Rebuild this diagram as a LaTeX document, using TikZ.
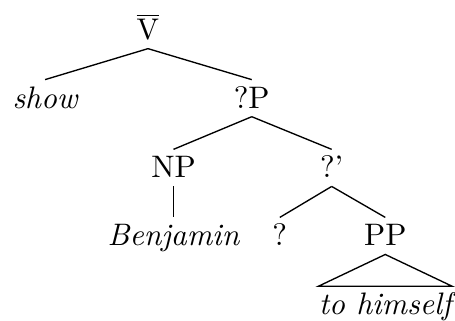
\documentclass[tikz,border=0pt]{standalone}
\usepackage{amsmath}
\usepackage{tikz}
\usetikzlibrary{positioning,calc}
\newcommand{\barV}{$\overline{\mathrm{V}}$}
\tikzset{
  cat/.style ={anchor=base, inner sep=0pt, text height=9.3pt, text depth=2.7pt,
               font=\fontsize{10.4pt}{12pt}\selectfont},
  lex/.style ={cat, font=\fontsize{10.4pt}{12pt}\selectfont\itshape},
  br/.style  ={draw, line width=0.45pt},
}
\begin{document}
\begin{tikzpicture}
\useasboundingbox (0,0) rectangle (5.35,-3.763);
\node[cat] (vbar) at (1.74,-0.47)  {\barV};
\node[lex] (show) at (0.53,-1.27)  {show};
\node[cat] (qp)   at (2.96,-1.27)  {?P};
\node[cat] (np)   at (2.04,-2.09)  {NP};
\node[cat] (qbar) at (3.90,-2.09)  {?'};
\node[lex] (benj) at (2.04,-2.89)  {Benjamin};
\node[cat] (q)    at (3.29,-2.89)  {?};
\node[cat] (pp)   at (4.53,-2.89)  {PP};
\node[lex] (refl) at (4.53,-3.70)  {to himself};
\draw[br] (vbar.south) -- (show.north);
\draw[br] (vbar.south) -- (qp.north);
\draw[br] (qp.south) -- (np.north);
\draw[br] (qp.south) -- (qbar.north);
\draw[br] (np.south) -- (benj.north);
\draw[br] (qbar.south) -- (q.north);
\draw[br] (qbar.south) -- (pp.north);
\draw[br] (pp.south) -- (refl.north west) -- (refl.north east) -- cycle;
\end{tikzpicture}
\end{document}
